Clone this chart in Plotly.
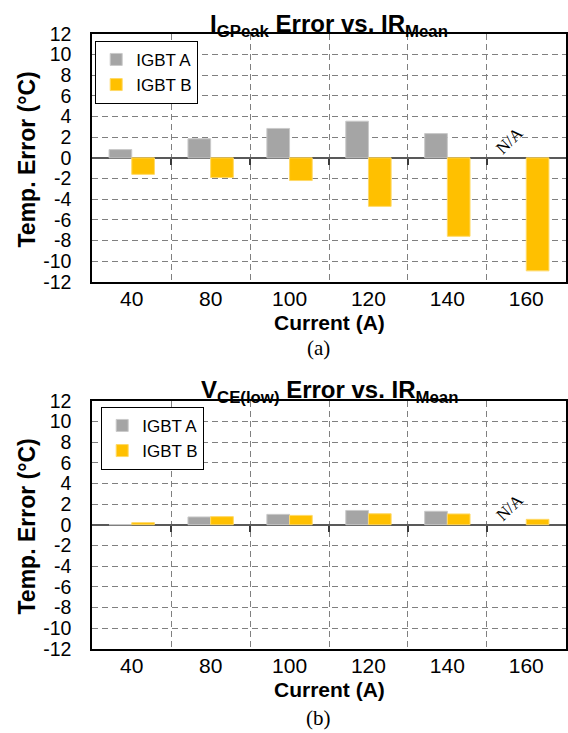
import plotly.graph_objects as go

# ---------------- data ----------------
currents = ["40", "80", "100", "120", "140", "160"]
igpeak_igbt_a = [0.8, 1.85, 2.85, 3.55, 2.35, None]
igpeak_igbt_b = [-1.6, -1.9, -2.2, -4.7, -7.6, -10.95]
vce_igbt_a = [0.0, 0.75, 1.0, 1.38, 1.3, None]
vce_igbt_b = [0.2, 0.78, 0.9, 1.06, 1.04, 0.52]
y_ticks = [-12, -10, -8, -6, -4, -2, 0, 2, 4, 6, 8, 10, 12]
y_tick_labels = ["-12", "-10", "-8", "-6", "-4", "-2", "0", "2", "4", "6", "8", "10", "12"]
series_names = ["IGBT A", "IGBT B"]
titles = ["I<sub>GPeak</sub> Error vs. IR<sub>Mean</sub>",
          "V<sub>CE(low)</sub> Error vs. IR<sub>Mean</sub>"]
captions = ["(a)", "(b)"]
x_title = "Current (A)"
y_title = "Temp. Error (°C)"
na_label = "N/A"

# ---------------- layout geometry ----------------
W, H = 568, 733
def py(p):
    return (H - p) / H

X0, X1 = 92.3 / W, 565.7 / W
dom_top = [py(281.7), py(34.0)]
dom_bot = [py(648.7), py(400.7)]
YMIN, YMAX = -12, 12

idx = list(range(len(currents)))
bounds = [i - 0.5 for i in range(len(currents) + 1)]
XR = [bounds[0], bounds[-1]]

COL_A = "#A5A5A5"
COL_B = "#FFC000"
GRID = "#808080"
FONT = "Arial, Liberation Sans, sans-serif"
SERIF = "Times New Roman, Liberation Serif, serif"
BARGAP = 0.425

fig = go.Figure()

panels = [
    dict(a=igpeak_igbt_a, b=igpeak_igbt_b, x="x", y="y", xt="x3", legend="legend", dom=dom_top),
    dict(a=vce_igbt_a, b=vce_igbt_b, x="x2", y="y2", xt="x4", legend="legend2", dom=dom_bot),
]

for p in panels:
    fig.add_trace(go.Bar(x=idx, y=p["a"], name=series_names[0], marker_color=COL_A,
                         marker_line=dict(color="#C9C9C9", width=1),
                         xaxis=p["x"], yaxis=p["y"], legend=p["legend"], hoverinfo="skip"))
    fig.add_trace(go.Bar(x=idx, y=p["b"], name=series_names[1], marker_color=COL_B,
                         marker_line=dict(color="#FFD966", width=1),
                         xaxis=p["x"], yaxis=p["y"], legend=p["legend"], hoverinfo="skip"))
    # invisible helper trace so the zero-crossing tick axis is drawn
    fig.add_trace(go.Scatter(x=idx, y=[0] * len(idx), mode="markers", marker=dict(opacity=0),
                             xaxis=p["xt"], yaxis=p["y"], showlegend=False, hoverinfo="skip"))

def xaxis_cfg(anchor, dom):
    return dict(domain=[X0, X1], anchor=anchor, range=XR, tickmode="array",
                tickvals=idx, ticktext=currents, showgrid=False,
                minor=dict(tickmode="array", tickvals=bounds[1:-1], showgrid=True,
                           gridcolor=GRID, griddash="6px,4px", gridwidth=1.2, ticks=""),
                showline=True, mirror=True, linecolor="black", linewidth=2,
                ticks="", zeroline=False, ticklabelstandoff=-3,
                tickfont=dict(family=FONT, size=21, color="black"))

def yaxis_cfg(anchor, dom):
    return dict(domain=dom, anchor=anchor, range=[YMIN, YMAX], tickmode="array",
                tickvals=y_ticks, ticktext=y_tick_labels, showgrid=True,
                gridcolor=GRID, griddash="6px,4px", gridwidth=1.2,
                zeroline=True, zerolinecolor="#595959", zerolinewidth=2,
                showline=True, mirror=True, linecolor="black", linewidth=2,
                ticks="", ticklabelstandoff=15,
                tickfont=dict(family=FONT, size=19.5, color="black"))

def tick_axis_cfg(over, dom):
    zero_pos = dom[0] + (0 - YMIN) / (YMAX - YMIN) * (dom[1] - dom[0])
    return dict(overlaying=over, anchor="free", position=zero_pos, range=XR,
                tickmode="array", tickvals=bounds[1:-1], ticks="outside", ticklen=6,
                tickwidth=1.5, tickcolor="#3A3A3A", showticklabels=False,
                showline=False, showgrid=False, zeroline=False, domain=[X0, X1])

fig.update_layout(
    width=W, height=H,
    margin=dict(l=0, r=0, t=0, b=0, pad=0, autoexpand=False),
    paper_bgcolor="white", plot_bgcolor="white",
    barmode="group", bargap=BARGAP, bargroupgap=0,
    xaxis=xaxis_cfg("y", dom_top),
    yaxis=yaxis_cfg("x", dom_top),
    xaxis2=xaxis_cfg("y2", dom_bot),
    yaxis2=yaxis_cfg("x2", dom_bot),
    xaxis3=tick_axis_cfg("x", dom_top),
    xaxis4=tick_axis_cfg("x2", dom_bot),
    legend=dict(x=95 / W, y=py(40.7), xanchor="left", yanchor="top",
                bordercolor="black", borderwidth=1.2, bgcolor="white",
                font=dict(family=FONT, size=17, color="black"),
                tracegroupgap=0, itemclick=False),
    legend2=dict(x=101 / W, y=py(406.7), xanchor="left", yanchor="top",
                 bordercolor="black", borderwidth=1.2, bgcolor="white",
                 font=dict(family=FONT, size=17, color="black"),
                 tracegroupgap=0, itemclick=False),
    showlegend=True,
)

annotations = []
mid_x = (X0 + X1) / 2
title_y = [25, 391]
xt_y = [322, 689]
ylab_y = [160, 527]
cap_y = [348, 718]
for k, (xr, yr) in enumerate([("x", "y"), ("x2", "y2")]):
    annotations.append(dict(text="<b>" + titles[k] + "</b>", x=mid_x, y=py(title_y[k]),
                            xref="paper", yref="paper", xanchor="center", yanchor="middle",
                            showarrow=False, font=dict(family=FONT, size=24, color="black")))
    annotations.append(dict(text="<b>" + x_title + "</b>", x=mid_x, y=py(xt_y[k]),
                            xref="paper", yref="paper", xanchor="center", yanchor="middle",
                            showarrow=False, font=dict(family=FONT, size=21, color="black")))
    annotations.append(dict(text="<b>" + y_title + "</b>", x=26.5 / W, y=py(ylab_y[k]),
                            xref="paper", yref="paper", xanchor="center", yanchor="middle",
                            textangle=-90, showarrow=False,
                            font=dict(family=FONT, size=23, color="black")))
    annotations.append(dict(text=captions[k], x=318 / W, y=py(cap_y[k]),
                            xref="paper", yref="paper", xanchor="center", yanchor="middle",
                            showarrow=False, font=dict(family=SERIF, size=21, color="black")))
    annotations.append(dict(text=na_label, x=idx[-1] - (1 - BARGAP) / 4, y=1.65,
                            xref=xr, yref=yr, xanchor="center", yanchor="middle",
                            xshift=-5, textangle=-44, showarrow=False,
                            font=dict(family=SERIF, size=17, color="black")))
fig.update_layout(annotations=annotations)

fig.write_html("out.html", config={"displayModeBar": False},
               post_script="document.body.style.margin='0';")
